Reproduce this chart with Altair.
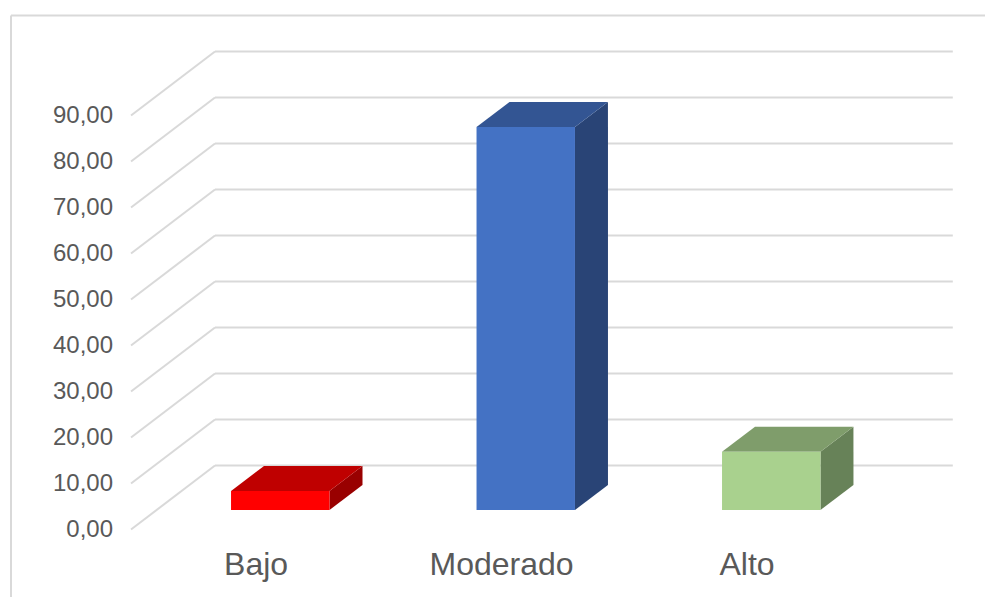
import altair as alt
import pandas as pd

categories = ["Bajo", "Moderado", "Alto"]
values = [4.13, 83.26, 12.67]
front_colors = ["#ff0000", "#4472c4", "#a9d18e"]
top_colors = ["#bf0000", "#335593", "#7f9d6b"]
side_colors = ["#990000", "#294476", "#678258"]
tick_values = [0, 10, 20, 30, 40, 50, 60, 70, 80, 90]
tick_labels = ["0,00", "10,00", "20,00", "30,00", "40,00", "50,00", "60,00", "70,00", "80,00", "90,00"]

# Projection of the 3D box, in units of the scales (category step, value)
BAR_W = 0.401
BAR_DX = 0.1344
BAR_DY = 5.43
WALL_LEFT = -0.2658
WALL_RIGHT = 2.7396
WALL_DY = 9.674
FLOOR_LEFT = -0.6079
FLOOR_DY = -4.239
TICK_X = -0.6813
LABEL_SHIFT = -0.0985
LABEL_Y = -14.13

PLOT_W = 977
PLOT_H = 589
x_scale = alt.Scale(domain=[-1.1090, 2.8707], nice=False, zero=False)
y_scale = alt.Scale(domain=[(510 - 8 - PLOT_H) / 4.6, 109.13], nice=False, zero=False)

X = lambda f, **k: alt.X(f, type="quantitative", scale=x_scale, axis=None, **k)
Y = lambda f, **k: alt.Y(f, type="quantitative", scale=y_scale, axis=None, **k)

grid = pd.DataFrame({
    "v": tick_values,
    "label": tick_labels,
})
grid["back"] = grid.v + WALL_DY
grid["front"] = grid.v + FLOOR_DY
grid["x0"] = WALL_LEFT
grid["x1"] = WALL_RIGHT
grid["xf"] = FLOOR_LEFT
grid["xt"] = TICK_X

GRID = "#d9d9d9"
back_lines = alt.Chart(grid).mark_rule(color=GRID, strokeWidth=2).encode(
    x=X("x0"), x2="x1", y=Y("back"))
diag_lines = alt.Chart(grid).mark_rule(color=GRID, strokeWidth=2).encode(
    x=X("xf"), x2="x0", y=Y("front"), y2="back")
tick_text = alt.Chart(grid).mark_text(
    align="right", baseline="middle", font="Liberation Sans", fontSize=24, color="#595959", dy=1
).encode(x=X("xt"), y=Y("front"), text="label:N")

bars = pd.DataFrame({
    "cat": categories, "v": values, "i": range(3),
    "front": front_colors, "top": top_colors, "side": side_colors,
})
bars["left"] = bars.i - BAR_W / 2
bars["right"] = bars.i + BAR_W / 2
bars["base"] = 0.0
bars["lx"] = bars.i + LABEL_SHIFT
bars["ly"] = LABEL_Y

front_face = alt.Chart(bars).mark_rect().encode(
    x=X("left"), x2="right", y=Y("base"), y2="v",
    color=alt.Color("front:N", scale=None))

top_rows, side_rows = [], []
for c, v, i, tc, sc in zip(categories, values, range(3), top_colors, side_colors):
    l, r = i - BAR_W / 2, i + BAR_W / 2
    top_rows += [
        {"cat": c, "y": v, "a": l, "b": r, "col": tc},
        {"cat": c, "y": v + BAR_DY, "a": l + BAR_DX, "b": r + BAR_DX, "col": tc},
    ]
    side_rows += [
        {"cat": c, "x": r, "lo": 0.0, "hi": v, "col": sc},
        {"cat": c, "x": r + BAR_DX, "lo": BAR_DY, "hi": v + BAR_DY, "col": sc},
    ]

top_face = alt.Chart(pd.DataFrame(top_rows)).mark_area(orient="horizontal").encode(
    y=Y("y"), x=X("a"), x2="b", color=alt.Color("col:N", scale=None), detail="cat:N")
side_face = alt.Chart(pd.DataFrame(side_rows)).mark_area(orient="vertical").encode(
    x=X("x"), y=Y("lo"), y2="hi", color=alt.Color("col:N", scale=None), detail="cat:N")

cat_text = alt.Chart(bars).mark_text(
    align="center", baseline="alphabetic", font="Liberation Sans", fontSize=32, color="#595959"
).encode(x=X("lx"), y=Y("ly"), text="cat:N")

frame_top = alt.Chart(grid.head(1)).mark_rule(color=GRID, strokeWidth=2).encode(
    x=alt.value(3), x2=alt.value(PLOT_W), y=alt.value(7.5))
frame_left = alt.Chart(grid.head(1)).mark_rule(color=GRID, strokeWidth=2).encode(
    x=alt.value(3), y=alt.value(7.5), y2=alt.value(PLOT_H))

chart = alt.layer(
    frame_top, frame_left, back_lines, diag_lines, tick_text,
    side_face, top_face, front_face, cat_text,
).properties(
    width=PLOT_W, height=PLOT_H, padding=0, autosize=alt.AutoSizeParams(type="none"),
    background="white",
).configure_view(stroke=None)

chart.save("out.html", embed_options={"renderer": "svg", "actions": False})
